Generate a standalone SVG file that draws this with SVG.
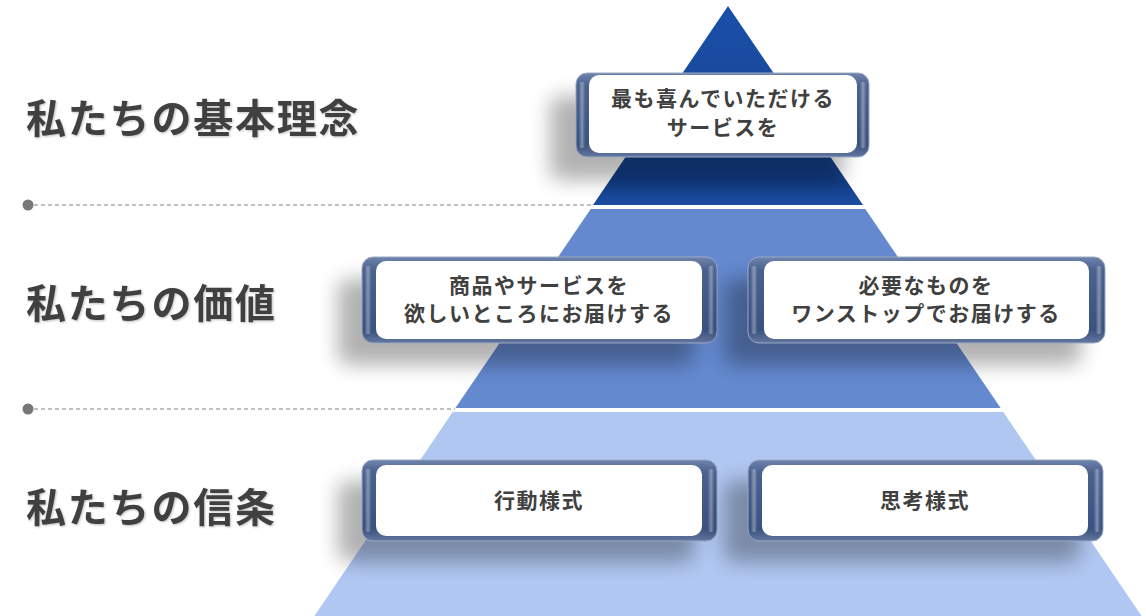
<svg xmlns="http://www.w3.org/2000/svg" width="1146" height="616" viewBox="0 0 1146 616">
<style>
.lbl{font-family:"Noto Sans CJK JP","Noto Sans",sans-serif;font-weight:bold;font-size:40px;fill:#404040;letter-spacing:1.8px}
.bt{font-family:"Noto Sans CJK JP","Noto Sans",sans-serif;font-weight:bold;font-size:21px;fill:#404040;letter-spacing:1.5px;text-anchor:middle}
.frame{fill:url(#bez);stroke:#9aa8c4;stroke-width:1}
.inner{fill:#ffffff}
.hl{fill:url(#hlg)}
.dash{stroke:#808080;stroke-width:1;stroke-dasharray:4 3;fill:none}
.dot{fill:#777777}
</style>
<defs>
<linearGradient id="t1" x1="0" y1="0" x2="0" y2="1">
<stop offset="0" stop-color="#1a4fa8"/><stop offset="0.75" stop-color="#164594"/><stop offset="0.88" stop-color="#123c84"/><stop offset="1" stop-color="#1a4ea3"/>
</linearGradient>
<linearGradient id="bez" x1="0" y1="0" x2="0" y2="1">
<stop offset="0" stop-color="#6f84ad"/><stop offset="0.15" stop-color="#4b628f"/><stop offset="0.85" stop-color="#3a527f"/><stop offset="1" stop-color="#63779f"/>
</linearGradient>
<linearGradient id="hlg" x1="0" y1="0" x2="1" y2="0">
<stop offset="0" stop-color="#ffffff" stop-opacity="0.05"/><stop offset="0.5" stop-color="#ffffff" stop-opacity="0.35"/><stop offset="1" stop-color="#ffffff" stop-opacity="0.05"/>
</linearGradient>
<filter id="sh" x="-30%" y="-60%" width="160%" height="220%">
<feGaussianBlur stdDeviation="10"/>
</filter>
<filter id="ts" x="-5%" y="-20%" width="110%" height="140%">
<feDropShadow dx="1" dy="1" stdDeviation="1.2" flood-color="#000" flood-opacity="0.25"/>
</filter>
</defs>
<rect width="1146" height="616" fill="#ffffff"/>
<g id="pyramid">
<polygon points="728,6 863,205 593,205" fill="url(#t1)"/>
<polygon points="590.7,209 865.3,209 1000.6,408 455.4,408" fill="#6489cf"/>
<polygon points="452.7,412 1003.3,412 1141.6,616 314.4,616" fill="#b0c7f1"/>
</g>
<g id="connectors">
<circle class="dot" cx="28" cy="205" r="5.5"/>
<line class="dash" x1="34" y1="205" x2="593" y2="205"/>
<circle class="dot" cx="28" cy="409" r="5.5"/>
<line class="dash" x1="34" y1="409" x2="455" y2="409"/>
</g>
<g id="labels" filter="url(#ts)">
<text class="lbl" x="26" y="133">私たちの基本理念</text>
<text class="lbl" x="26" y="318">私たちの価値</text>
<text class="lbl" x="26" y="522">私たちの信条</text>
</g>
<g id="box1">
<rect x="550" y="96" width="294" height="84" rx="10" fill="#000" opacity="0.3" filter="url(#sh)"/>
<rect class="frame" x="576" y="73" width="293" height="84" rx="11"/>
<rect class="hl" x="579" y="82" width="6" height="66" rx="3"/>
<rect class="hl" x="860" y="82" width="6" height="66" rx="3"/>
<rect class="inner" x="589" y="75" width="268" height="78" rx="10"/>
<text class="bt" x="723" y="106">最も喜んでいただける</text>
<text class="bt" x="723" y="135">サービスを</text>
</g>
<g id="box2">
<rect x="338" y="279" width="356" height="86" rx="10" fill="#000" opacity="0.3" filter="url(#sh)"/>
<rect class="frame" x="362" y="257" width="355" height="86" rx="11"/>
<rect class="hl" x="365" y="266" width="6" height="68" rx="3"/>
<rect class="hl" x="708" y="266" width="6" height="68" rx="3"/>
<rect class="inner" x="376" y="261" width="326" height="78" rx="10"/>
<text class="bt" x="539" y="293">商品やサービスを</text>
<text class="bt" x="539" y="321">欲しいところにお届けする</text>
</g>
<g id="box3">
<rect x="724" y="279" width="357" height="86" rx="10" fill="#000" opacity="0.3" filter="url(#sh)"/>
<rect class="frame" x="748" y="257" width="357" height="86" rx="11"/>
<rect class="hl" x="751" y="266" width="6" height="68" rx="3"/>
<rect class="hl" x="1096" y="266" width="6" height="68" rx="3"/>
<rect class="inner" x="764" y="261" width="325" height="78" rx="10"/>
<text class="bt" x="926" y="293">必要なものを</text>
<text class="bt" x="926" y="321">ワンストップでお届けする</text>
</g>
<g id="box4">
<rect x="338" y="481" width="356" height="81" rx="10" fill="#000" opacity="0.3" filter="url(#sh)"/>
<rect class="frame" x="362" y="460" width="355" height="81" rx="11"/>
<rect class="hl" x="365" y="469" width="6" height="63" rx="3"/>
<rect class="hl" x="708" y="469" width="6" height="63" rx="3"/>
<rect class="inner" x="376" y="465" width="326" height="71" rx="10"/>
<text class="bt" x="539" y="508">行動様式</text>
</g>
<g id="box5">
<rect x="724" y="481" width="356" height="81" rx="10" fill="#000" opacity="0.3" filter="url(#sh)"/>
<rect class="frame" x="748" y="460" width="355" height="81" rx="11"/>
<rect class="hl" x="751" y="469" width="6" height="63" rx="3"/>
<rect class="hl" x="1094" y="469" width="6" height="63" rx="3"/>
<rect class="inner" x="762" y="465" width="326" height="71" rx="10"/>
<text class="bt" x="925" y="508">思考様式</text>
</g>
</svg>
